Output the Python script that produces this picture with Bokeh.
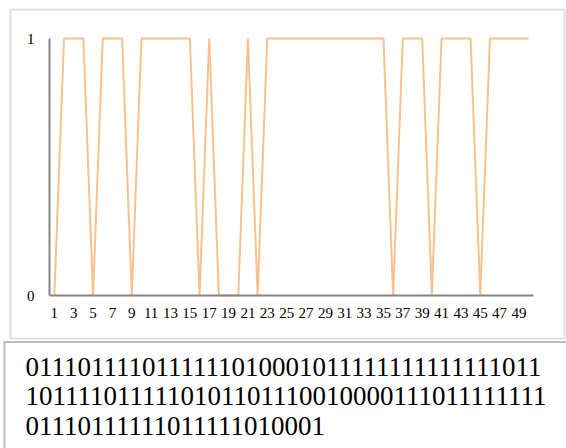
from bokeh.plotting import figure
from bokeh.models import Range1d, FixedTicker, BoxAnnotation, Label
from bokeh.embed import file_html
from bokeh.resources import INLINE

# ---- data ----
positions = list(range(1, 51))
values = [0, 1, 1, 1, 0, 1, 1, 1, 0, 1,
          1, 1, 1, 1, 1, 0, 1, 0, 0, 0,
          1, 0, 1, 1, 1, 1, 1, 1, 1, 1,
          1, 1, 1, 1, 1, 0, 1, 1, 1, 0,
          1, 1, 1, 1, 0, 1, 1, 1, 1, 1]
x_ticks = list(range(1, 50, 2))
y_ticks = [0, 1]
text_lines = [
    "0111011110111111010001011111111111111011",
    "1011110111110101101110010000111011111111",
    "01110111111011111010001",
]

W, H = 566, 448
SERIF = "Liberation Serif"

# layout: pixel positions of the plot area inside the canvas
AX_LEFT, AX_RIGHT = 49, 533     # category band 0.5 .. 50.5
AX_TOP, AX_BOTTOM = 38, 295     # value 1 .. 0
UX = (AX_RIGHT - AX_LEFT) / 50.0
UY = float(AX_BOTTOM - AX_TOP)


def dx(px):
    return 0.5 + (px - AX_LEFT) / UX


def dy(py):
    return (AX_BOTTOM - py) / UY


p = figure(width=W, height=H, output_backend="svg", toolbar_location=None,
           x_range=Range1d(dx(0), dx(W)), y_range=Range1d(dy(H), dy(0)),
           min_border_left=0, min_border_right=0,
           min_border_top=0, min_border_bottom=0)
p.outline_line_color = None
p.xgrid.visible = False
p.ygrid.visible = False
p.background_fill_color = "white"
p.border_fill_color = "white"

# outer chart border
p.add_layout(BoxAnnotation(left=dx(10), right=dx(564), top=dy(9), bottom=dy(338),
                           fill_alpha=0, line_color="#8a8a8a", line_width=1.75, level="underlay"))
# text box (runs past the right and bottom edges)
p.add_layout(BoxAnnotation(left=dx(4), right=dx(620), top=dy(341.5), bottom=dy(520),
                           fill_alpha=0, line_color="#222222", line_width=2, level="underlay"))

p.line(positions, values, line_color="#FAC08F", line_width=2)

for ax in (p.xaxis[0], p.yaxis[0]):
    ax.axis_line_color = "#868686"
    ax.axis_line_width = 2
    ax.major_tick_line_color = None
    ax.minor_tick_line_color = None
    ax.major_label_text_font = SERIF
    ax.major_label_text_font_size = "15px"
    ax.major_label_text_color = "#000000"

p.xaxis[0].ticker = FixedTicker(ticks=x_ticks)
p.xaxis[0].fixed_location = 0
p.xaxis[0].bounds = (0.5, 50.5)
p.xaxis[0].major_label_standoff = 6
p.yaxis[0].ticker = FixedTicker(ticks=y_ticks)
p.yaxis[0].fixed_location = 0.5
p.yaxis[0].bounds = (0, 1)
p.yaxis[0].major_label_standoff = 9

baselines = [375.5, 405, 434.5]
for txt, b in zip(text_lines, baselines):
    p.add_layout(Label(x=dx(25), y=dy(b - 9.5), text=txt, text_font=SERIF, text_font_size="27px",
                       text_color="#000000", text_baseline="alphabetic", text_align="left"))

open("out.html", "w").write(file_html(p, INLINE))
